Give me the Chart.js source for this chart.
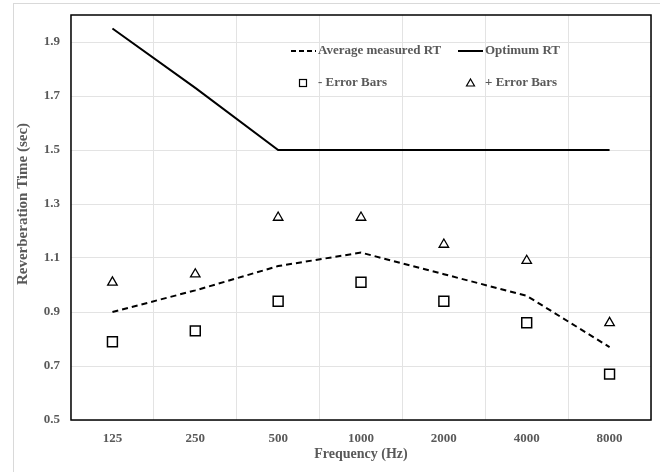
<!DOCTYPE html>
<html>
<head>
<meta charset="utf-8">
<script src="https://cdn.jsdelivr.net/npm/chart.js@4/dist/chart.umd.min.js"></script>
<style>
    html, body { margin: 0; padding: 0; background: #fff; }
    #wrap { position: relative; width: 660px; height: 472px; overflow: hidden; }
    #frame { position: absolute; left: 13px; top: 3px; width: 700px; height: 520px; border: 1px solid #d9d9d9; }
    canvas { position: absolute; left: 0; top: 0; }
</style>
</head>
<body>
<div id="wrap">
    <div id="frame"></div>
    <canvas id="rtChart" width="660" height="472"></canvas>
</div>
<script>
// Frequency bands
const frequencies = ['125', '250', '500', '1000', '2000', '4000', '8000'];

// Reverberation times (sec)
const averageRT = [0.90, 0.98, 1.07, 1.12, 1.04, 0.96, 0.77];
const optimumRT = [1.95, 1.73, 1.50, 1.50, 1.50, 1.50, 1.50];
const minusError = [0.79, 0.83, 0.94, 1.01, 0.94, 0.86, 0.67];
const plusError = [1.01, 1.04, 1.25, 1.25, 1.15, 1.09, 0.86];

// Y axis ticks
const yTicks = [0.5, 0.7, 0.9, 1.1, 1.3, 1.5, 1.7, 1.9];

const yTitle = 'Reverberation Time (sec)';
const textGray = '#595959';
const serifFont = '"Liberation Serif", "Times New Roman", serif';

// Draws the black frame around the plot, the y title and the legend inside the plot
const frameAndLegend = {
    id: 'frameAndLegend',
    afterDatasetsDraw(chart) {
        const ctx = chart.ctx;
        const a = chart.chartArea;
        ctx.save();
        ctx.strokeStyle = '#000';
        ctx.lineWidth = 1.5;
        ctx.strokeRect(a.left, a.top, a.right - a.left, a.bottom - a.top);

        // y axis title, sits a bit above the plot centre like the original
        ctx.save();
        ctx.translate(23, 204);
        ctx.rotate(-Math.PI / 2);
        ctx.font = 'bold 15px ' + serifFont;
        ctx.fillStyle = textGray;
        ctx.textAlign = 'center';
        ctx.textBaseline = 'middle';
        ctx.fillText(yTitle, 0, 0);
        ctx.restore();

        ctx.font = 'bold 13px ' + serifFont;
        ctx.fillStyle = textGray;
        ctx.textBaseline = 'middle';
        ctx.textAlign = 'left';

        const row1 = a.top + 36;
        const row2 = a.top + 68;

        // dashed sample
        ctx.strokeStyle = '#000';
        ctx.lineWidth = 2;
        ctx.setLineDash([5, 3]);
        ctx.beginPath();
        ctx.moveTo(291, row1);
        ctx.lineTo(316, row1);
        ctx.stroke();
        ctx.setLineDash([]);
        ctx.fillText(chart.data.datasets[0].label, 318, row1);

        // solid sample
        ctx.beginPath();
        ctx.moveTo(458, row1);
        ctx.lineTo(483, row1);
        ctx.stroke();
        ctx.fillText(chart.data.datasets[1].label, 485, row1);

        // square marker
        ctx.lineWidth = 1.2;
        ctx.strokeRect(299.5, row2 - 3.5, 7, 7);
        ctx.fillText(chart.data.datasets[2].label, 318, row2);

        // triangle marker
        ctx.beginPath();
        ctx.moveTo(470.5, row2 - 4);
        ctx.lineTo(474.5, row2 + 3);
        ctx.lineTo(466.5, row2 + 3);
        ctx.closePath();
        ctx.stroke();
        ctx.fillText(chart.data.datasets[3].label, 485, row2);
        ctx.restore();
    }
};

const ctx = document.getElementById('rtChart').getContext('2d');

new Chart(ctx, {
    type: 'line',
    data: {
        labels: frequencies,
        datasets: [
            {
                label: 'Average measured RT',
                data: averageRT,
                borderColor: '#000',
                borderWidth: 2,
                borderDash: [6, 4],
                pointRadius: 0,
                tension: 0,
                fill: false
            },
            {
                label: 'Optimum RT',
                data: optimumRT,
                borderColor: '#000',
                borderWidth: 2,
                pointRadius: 0,
                tension: 0,
                fill: false
            },
            {
                label: '- Error Bars',
                data: minusError,
                showLine: false,
                pointStyle: 'rect',
                pointRadius: 7,
                pointBorderWidth: 1.5,
                pointBorderColor: '#000',
                pointBackgroundColor: '#fff'
            },
            {
                label: '+ Error Bars',
                data: plusError,
                showLine: false,
                pointStyle: 'triangle',
                pointRadius: 5.5,
                pointBorderWidth: 1.3,
                pointBorderColor: '#000',
                pointBackgroundColor: '#fff'
            }
        ]
    },
    options: {
        responsive: false,
        animation: false,
        layout: {
            padding: { top: 15, right: 9, left: 0, bottom: 0 }
        },
        plugins: {
            legend: { display: false },
            tooltip: { enabled: false }
        },
        scales: {
            x: {
                offset: true,
                grid: {
                    offset: true,
                    color: '#e3e3e3',
                    lineWidth: 1,
                    drawTicks: false
                },
                border: { display: false },
                ticks: {
                    color: textGray,
                    padding: 11,
                    font: { family: serifFont, size: 13, weight: 'bold' }
                },
                title: {
                    display: true,
                    text: 'Frequency (Hz)',
                    color: textGray,
                    padding: { top: 4, bottom: 9 },
                    font: { family: serifFont, size: 14, weight: 'bold' }
                },
                afterFit(scale) { scale.height = 52; }
            },
            y: {
                min: 0.5,
                max: 2.0,
                afterBuildTicks(scale) {
                    scale.ticks = yTicks.map(v => ({ value: v }));
                },
                grid: {
                    color: '#e3e3e3',
                    lineWidth: 1,
                    drawTicks: false
                },
                border: { display: false },
                ticks: {
                    color: textGray,
                    padding: 11,
                    font: { family: serifFont, size: 13, weight: 'bold' },
                    callback: v => v.toFixed(1)
                },
                afterFit(scale) {
                    scale.width = 71;
                    // no extra room for the tick labels at the ends
                    scale.paddingTop = 0;
                    scale.paddingBottom = 0;
                }
            }
        }
    },
    plugins: [frameAndLegend]
});
</script>
</body>
</html>
